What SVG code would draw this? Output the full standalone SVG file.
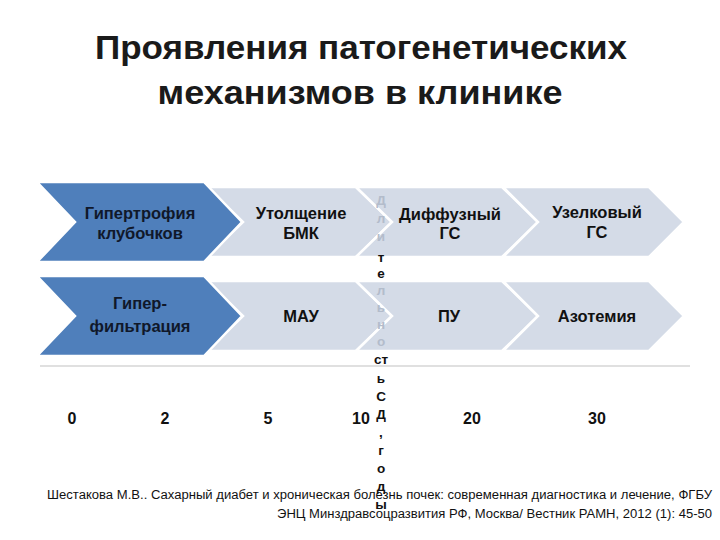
<svg xmlns="http://www.w3.org/2000/svg" width="720" height="540" viewBox="0 0 720 540">
<style>
.title{font-family:"Liberation Sans",Arial,sans-serif;font-weight:bold;font-size:33px;fill:#1a1a1a;text-anchor:middle}
.dark{fill:#4f7fbb;stroke:#ffffff;stroke-width:2.5;stroke-linejoin:miter}
.light{fill:#d4dbe7;stroke:#ffffff;stroke-width:2.5;stroke-linejoin:miter}
.lbl{font-family:"Liberation Sans",Arial,sans-serif;font-weight:bold;font-size:16.5px;fill:#111;text-anchor:middle}
.lbld{fill:#10182a}
.num{font-family:"Liberation Sans",Arial,sans-serif;font-weight:bold;font-size:16px;fill:#111;text-anchor:middle}
.vt{font-family:"Liberation Sans",Arial,sans-serif;font-weight:bold;font-size:13.5px;fill:#111;text-anchor:middle}
.vf{fill:#b3bccb}
.foot{font-family:"Liberation Sans",Arial,sans-serif;font-size:12.5px;fill:#111}
</style>
<rect width="720" height="540" fill="#ffffff"/>
<g id="title">
<text class="title" x="361" y="59" textLength="532" lengthAdjust="spacingAndGlyphs">Проявления патогенетических</text>
<text class="title" x="360" y="104" textLength="405" lengthAdjust="spacingAndGlyphs">механизмов в клинике</text>
</g>
<line x1="40" y1="366" x2="690" y2="366" stroke="#d6d6d6" stroke-width="1.5"/>
<g id="row1">
<g id="n-utolshchenie"><polygon class="light" points="207,187 356,187 392,222 356,257 207,257 243,222"/><text class="lbl" x="301" y="219">Утолщение</text><text class="lbl" x="301" y="239">БМК</text></g>
<g id="n-diffuzny"><polygon class="light" points="356,187 502,187 538,222 502,257 356,257 392,222"/><text class="lbl" x="450" y="220">Диффузный</text><text class="lbl" x="450" y="239">ГС</text></g>
<g id="n-uzelkovy"><polygon class="light" points="503,187 649,187 684,222 649,257 503,257 538,222"/><text class="lbl" x="597" y="218">Узелковый</text><text class="lbl" x="597" y="238">ГС</text></g>
<g id="n-gipertrofiya"><polygon class="dark" points="37,182 204,182 242,222 204,262 37,262 75,222"/><text class="lbl lbld" x="140" y="219">Гипертрофия</text><text class="lbl lbld" x="140" y="239">клубочков</text></g>
</g>
<g id="row2">
<g id="n-mau"><polygon class="light" points="207,281 356,281 392,316 356,351 207,351 243,316"/><text class="lbl" x="301" y="322">МАУ</text></g>
<g id="n-pu"><polygon class="light" points="356,281 502,281 538,316 502,351 356,351 392,316"/><text class="lbl" x="449" y="322">ПУ</text></g>
<g id="n-azotemiya"><polygon class="light" points="503,281 649,281 684,316 649,351 503,351 538,316"/><text class="lbl" x="597" y="322">Азотемия</text></g>
<g id="n-giperfiltraciya"><polygon class="dark" points="37,276 204,276 242,316 204,356 37,356 75,316"/><text class="lbl lbld" x="140" y="309">Гипер-</text><text class="lbl lbld" x="140" y="332">фильтрация</text></g>
</g>
<g id="axis-label">
<text class="vt vf" x="381" y="205">Д</text>
<text class="vt vf" x="381" y="223">л</text>
<text class="vt vf" x="381" y="241">и</text>
<text class="vt" x="381" y="262">т</text>
<text class="vt" x="381" y="278">е</text>
<text class="vt vf" x="381" y="295">л</text>
<text class="vt vf" x="381" y="312">ь</text>
<text class="vt vf" x="381" y="329">н</text>
<text class="vt vf" x="381" y="346">о</text>
<text class="vt" x="381" y="364">ст</text>
<text class="vt" x="381" y="383">ь</text>
<text class="vt" x="381" y="401">С</text>
<text class="vt" x="381" y="419">Д</text>
<text class="vt" x="381" y="437">,</text>
<text class="vt" x="381" y="455">г</text>
<text class="vt" x="381" y="473">о</text>
<text class="vt" x="381" y="491">д</text>
<text class="vt" x="381" y="509">ы</text>
</g>
<g id="connectors"></g>
<g id="axis-numbers">
<text class="num" x="72" y="424">0</text>
<text class="num" x="165" y="424">2</text>
<text class="num" x="268" y="424">5</text>
<text class="num" x="361" y="424">10</text>
<text class="num" x="472" y="424">20</text>
<text class="num" x="597" y="424">30</text>
</g>
<g id="footer">
<text class="foot" x="47" y="499" textLength="665" lengthAdjust="spacingAndGlyphs">Шестакова М.В.. Сахарный диабет и хроническая болезнь почек: современная диагностика и лечение, ФГБУ</text>
<text class="foot" x="712" y="518" text-anchor="end" textLength="435" lengthAdjust="spacingAndGlyphs">ЭНЦ Минздравсоцразвития РФ, Москва/ Вестник РАМН, 2012 (1): 45-50</text>
</g>
</svg>
